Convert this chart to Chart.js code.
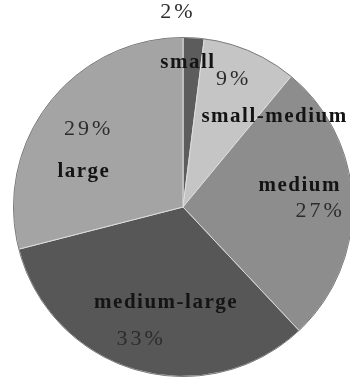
<!DOCTYPE html>
<html>
<head>
<meta charset="utf-8">
<script src="https://cdn.jsdelivr.net/npm/chart.js@4"></script>
<style>
    html, body { margin: 0; padding: 0; background: #fff; overflow: hidden; }
    #wrap { width: 360px; height: 380px; }
</style>
</head>
<body>
<div id="wrap"><canvas id="sizeChart" width="360" height="380"></canvas></div>
<script>
const categories = ['small', 'small-medium', 'medium', 'medium-large', 'large'];
const shares = [2, 9, 27, 33, 29];
const sliceColors = ['#5c5c5c', '#c5c5c5', '#8d8d8d', '#575757', '#a4a4a4'];

// where each label sits: [angle in degrees clockwise from 12 o'clock, fraction of radius]
const namePlace = [[2, 0.85], [45.3, 0.76], [79.8, 0.70], [190.1, 0.57], [289.5, 0.62]];
const pctPlace = [[-1.5, 1.15], [21.7, 0.81], [91.7, 0.81], [197.5, 0.82], [309.4, 0.72]];

function polar(x, y, r, place) {
    const a = place[0] * Math.PI / 180;
    return [x + Math.sin(a) * r * place[1], y - Math.cos(a) * r * place[1]];
}

const sliceLabels = {
    id: 'sliceLabels',
    afterDatasetsDraw(chart) {
        const ctx = chart.ctx;
        const arcs = chart.getDatasetMeta(0).data;

        // thin outline round the whole pie
        const first = arcs[0].getProps(['x', 'y', 'outerRadius'], true);
        ctx.save();
        ctx.beginPath();
        ctx.arc(first.x, first.y, first.outerRadius, 0, Math.PI * 2);
        ctx.strokeStyle = '#7a7a7a';
        ctx.lineWidth = 1;
        ctx.stroke();

        ctx.textAlign = 'center';
        ctx.textBaseline = 'middle';
        arcs.forEach((arc, i) => {
            const { x, y, outerRadius } = arc.getProps(['x', 'y', 'outerRadius'], true);

            const [nx, ny] = polar(x, y, outerRadius, namePlace[i]);
            ctx.font = 'bold 21px "Liberation Serif"';
            ctx.letterSpacing = '1.5px';
            ctx.fillStyle = '#141414';
            ctx.fillText(categories[i], nx, ny);

            const [px, py] = polar(x, y, outerRadius, pctPlace[i]);
            ctx.font = '22px "Liberation Serif"';
            ctx.letterSpacing = '3px';
            ctx.fillStyle = '#2c2c2c';
            ctx.fillText(shares[i] + '%', px, py);
        });
        ctx.restore();
    }
};

const sizeChart = new Chart(document.getElementById('sizeChart').getContext('2d'), {
    type: 'pie',
    data: {
        labels: categories,
        datasets: [{
            data: shares,
            backgroundColor: sliceColors,
            borderColor: '#dcdcdc',
            borderWidth: 1
        }]
    },
    options: {
        responsive: false,
        animation: false,
        layout: { padding: { left: 13, right: 7, top: 37, bottom: 3 } },
        plugins: {
            legend: { display: false },
            tooltip: { enabled: false }
        }
    },
    plugins: [sliceLabels]
});
</script>
</body>
</html>
